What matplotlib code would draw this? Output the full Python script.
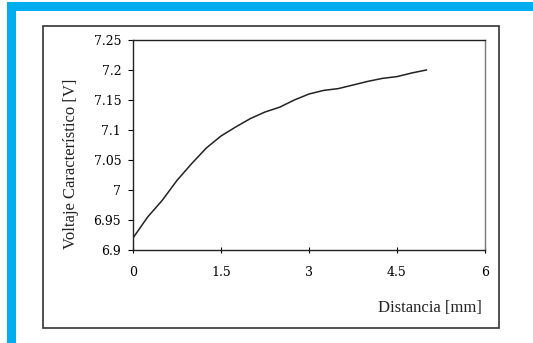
import matplotlib
matplotlib.use("Agg")
import matplotlib.pyplot as plt
from matplotlib.patches import Rectangle

# distancia [mm] vs voltaje caracteristico [V]
distancia = [0, 0.25, 0.5, 0.75, 1.0, 1.25, 1.5, 1.75, 2.0, 2.25, 2.5,
             2.75, 3.0, 3.25, 3.5, 3.75, 4.0, 4.25, 4.5, 4.75, 5.0]
voltaje = [6.920, 6.955, 6.983, 7.016, 7.044, 7.070, 7.090, 7.105, 7.119,
           7.130, 7.138, 7.150, 7.160, 7.166, 7.169, 7.175, 7.181, 7.186,
           7.189, 7.195, 7.200]
xticks = [0, 1.5, 3, 4.5, 6]
xtick_labels = ['0', '1.5', '3', '4.5', '6']
yticks = [6.9, 6.95, 7.0, 7.05, 7.1, 7.15, 7.2, 7.25]
ytick_labels = ['6.9', '6.95', '7', '7.05', '7.1', '7.15', '7.2', '7.25']

W, H = 533, 343
fig = plt.figure(figsize=(W / 100, H / 100), dpi=100)
blue = '#00aeef'

def box(x0, y0, x1, y1, **kw):
    # pixel coords from top-left
    fig.patches.append(Rectangle((x0 / W, 1 - y1 / H), (x1 - x0) / W, (y1 - y0) / H,
                                 transform=fig.transFigure, figure=fig, **kw))

box(7, 2, W, 11, color=blue, lw=0)
box(7, 2, 16, H, color=blue, lw=0)
box(43, 26, 499, 328, fill=False, ec='#333333', lw=1.2)

ax = fig.add_axes([133 / W, 1 - 250 / H, (485 - 133) / W, (250 - 40) / H])
ax.plot(distancia, voltaje, color='#222222', lw=1.1)
ax.set_xlim(0, 6)
ax.set_ylim(6.9, 7.25)
ax.set_xticks(xticks)
ax.set_xticklabels(xtick_labels)
ax.set_yticks(yticks)
ax.set_yticklabels(ytick_labels)
for lab in ax.get_xticklabels() + ax.get_yticklabels():
    lab.set_family('DejaVu Serif')
    lab.set_fontsize(9)
    lab.set_color('black')
ax.tick_params(axis='x', direction='inout', length=5, width=0.8, pad=9)
ax.tick_params(axis='y', direction='out', length=3.5, width=0.8, pad=5)
for s in ['left', 'bottom', 'top']:
    ax.spines[s].set_color('#222222')
    ax.spines[s].set_linewidth(1.0)
ax.spines['right'].set_color('#777777')
ax.spines['right'].set_linewidth(1.0)

fig.text(71 / W, 1 - 164 / H, 'Voltaje Característico [V]', rotation=90,
         ha='center', va='center', family='Liberation Serif', fontsize=12,
         color='#222222')
fig.text(482 / W, 1 - 308 / H, 'Distancia [mm]', ha='right', va='center',
         family='Liberation Serif', fontsize=12, color='#222222')

fig.savefig('out.png', dpi=100)
